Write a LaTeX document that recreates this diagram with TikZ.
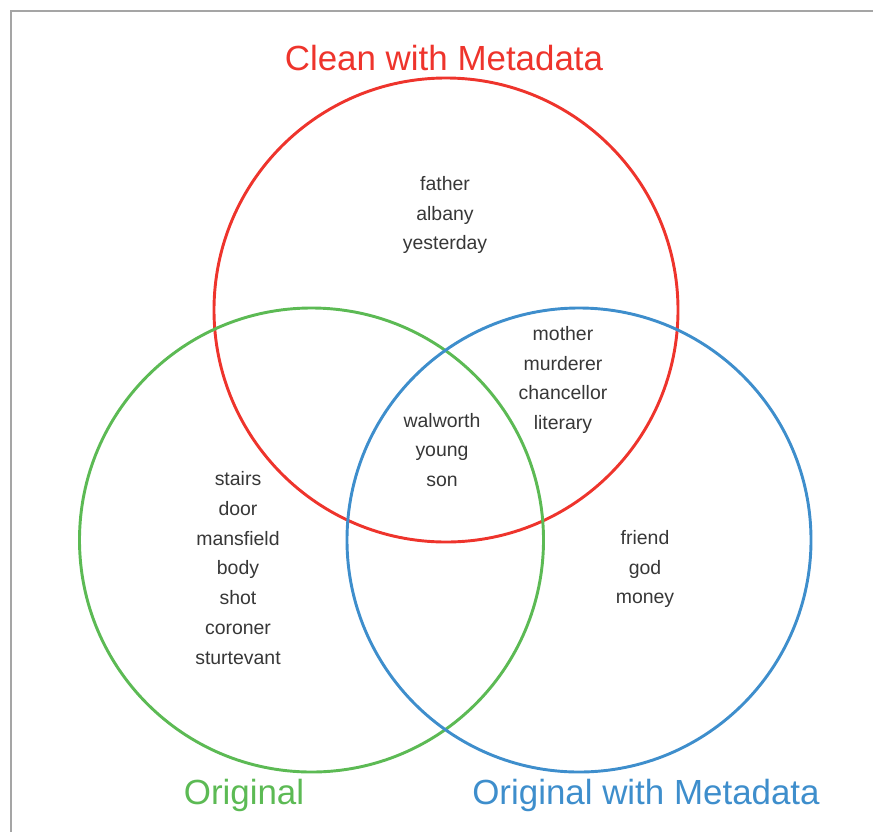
\documentclass[tikz,border=0pt]{standalone}
\usepackage{fontspec}
\setmainfont{Liberation Sans}
\definecolor{cleanred}{RGB}{238,52,44}
\definecolor{origgreen}{RGB}{92,186,84}
\definecolor{metablue}{RGB}{62,142,204}
\definecolor{wordgray}{RGB}{55,55,55}
\definecolor{framegray}{RGB}{165,165,165}

\begin{document}
\begin{tikzpicture}[
      x=0.03cm, y=-0.03cm,
      every text node part/.style={align=center},
      set/.style={
        circle,
        draw,
        line width=2.5pt,
        minimum size=13.92cm,
        inner sep=0pt
      },
      title/.style={
        font=\fontsize{29.8}{34}\selectfont
      },
      words/.style={
        text=wordgray,
        font=\fontsize{16.6}{25.5}\selectfont
      }
    ]
    \useasboundingbox (0,0) rectangle (873,832);
    \draw[framegray, line width=1.6pt] (11,832) -- (11,11) -- (873,11);

    \node[set, draw=cleanred] (Clean) at (446,310) {};
    \node[set, draw=origgreen] (Original) at (311.5,540) {};
    \node[set, draw=metablue] (Meta) at (579,540) {};

    \node[title, text=cleanred] (CleanTitle) at (444,58) {Clean with Metadata};
    \node[title, text=origgreen] (OriginalTitle) at (244,795) {Original};
    \node[title, text=metablue] (MetaTitle) at (646,795) {Original with Metadata};

    \node[words] (CleanOnly) at (445,215)
      {father\\albany\\yesterday};
    \node[words] (CleanMeta) at (563,380)
      {mother\\murderer\\chancellor\\literary};
    \node[words] (AllThree) at (442,450)
      {walworth\\young\\son};
    \node[words] (OriginalOnly) at (238,568)
      {stairs\\door\\mansfield\\body\\shot\\coroner\\sturtevant};
    \node[words] (MetaOnly) at (645,569)
      {friend\\god\\money};
  \end{tikzpicture}
\end{document}
